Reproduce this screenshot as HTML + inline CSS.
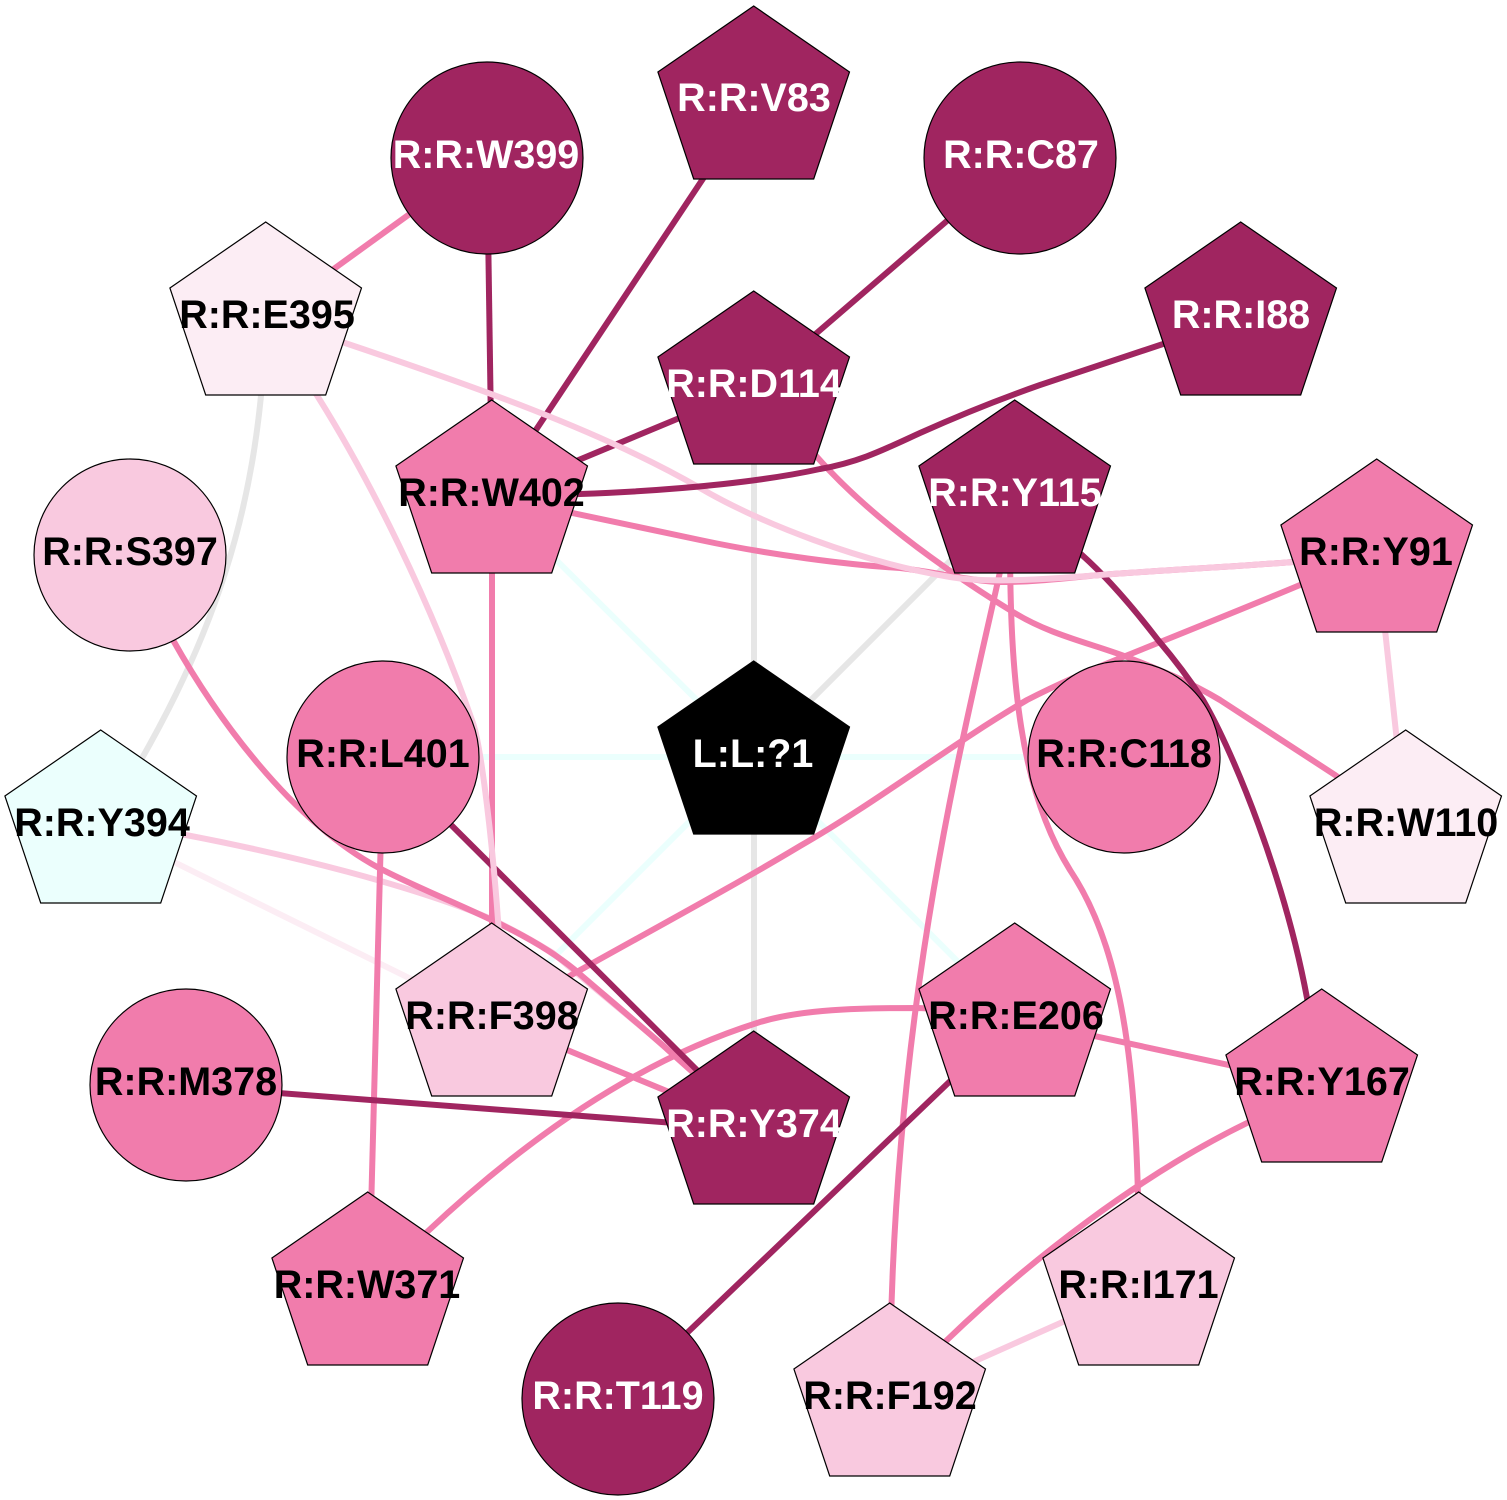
<!DOCTYPE html>
<html><head><meta charset="utf-8"><style>
html,body{margin:0;padding:0;background:#fff}
svg{display:block}
text{font-family:"Liberation Sans",sans-serif;font-weight:bold;font-size:39.5px;text-anchor:middle}
.e{fill:none;stroke-width:6}
.d{stroke:#A02560}.p{stroke:#F17CAC}.l{stroke:#F9C9DF}.v{stroke:#FCEDF4}.g{stroke:#E6E6E6}.c{stroke:#EBFFFD}
.n{stroke:#000;stroke-width:1.2}
.D{fill:#A02560}.P{fill:#F17CAC}.L{fill:#F9C9DF}.V{fill:#FCEDF4}.C{fill:#EBFFFD}
</style></head><body>
<svg width="1507" height="1500" viewBox="0 0 1507 1500" xmlns="http://www.w3.org/2000/svg">
<defs><polygon id="q" points="-.3,0 95.5,66 59.7,173 -60.3,173 -96.1,66"/></defs>
<rect width="1507" height="1500" fill="#fff"/>
<g class="e">
<path class="c" d="M492 496L754 757"/>
<path class="c" d="M383 757H1124"/>
<path class="c" d="M1015 1019L754 757"/>
<path class="c" d="M492 1019L754 757"/>
<path class="g" d="M754 387V1127"/>
<path class="g" d="M1015 496L754 757"/>
<path class="g" d="M266 318C260 500 220 640 101 826"/>
<path class="v" d="M101 826L492 1019"/>
<path class="l" d="M1377 555L1406 826"/>
<path class="l" d="M1139 1288L890 1399"/>
<path class="l" d="M101 820L186 835C290 855 410 885 489 918C510 928 532 940 553 953C590 985 640 1025 696 1073L754 1127"/>
<path class="p" d="M487 158L266 318"/>
<path class="p" d="M492 496V1019"/>
<path class="p" d="M383 757L369 1288"/>
<path class="p" d="M492 1019L754 1127"/>
<path class="p" d="M1015 1019L1322 1085"/>
<path class="p" d="M492 496L700 540C770 555 850 565 900 568C930 571 970 581 1000 582C1035 582 1065 578 1100 575C1165 570 1230 567 1293 562L1377 555"/>
<path class="p" d="M754 387L817 457C870 517 945 570 1013 612C1050 635 1090 643 1127 657C1160 670 1190 682 1220 700L1335 775L1406 826"/>
<path class="p" d="M1015 496C990 650 890 950 890 1399"/>
<path class="p" d="M1010 540C1010 680 1020 790 1070 870C1130 960 1139 1100 1139 1288"/>
<path class="p" d="M1377 555L1300 585C1245 608 1185 632 1128 655C1095 668 1060 683 1027 700C950 745 880 800 800 846C735 885 670 920 575 973L492 1019"/>
<path class="p" d="M130 555C145 590 155 615 173 640C215 715 290 820 379 868C440 900 520 925 575 970C610 1000 640 1025 668 1050L754 1127"/>
<path class="p" d="M369 1288L427 1232C530 1135 640 1060 757 1023C800 1009 860 1008 918 1008L1015 1012"/>
<path class="p" d="M1322 1085L1247 1123C1140 1175 1030 1260 947 1340L890 1399"/>
<path class="d" d="M487 158L492 496"/>
<path class="d" d="M754 102L492 496"/>
<path class="d" d="M1020 158L754 387"/>
<path class="d" d="M754 387L492 496"/>
<path class="d" d="M1015 496L1082 555C1110 580 1135 610 1158 640C1175 660 1190 680 1203 700C1235 755 1285 880 1307 998L1322 1085"/>
<path class="d" d="M383 757L754 1127"/>
<path class="d" d="M186 1086L754 1129"/>
<path class="d" d="M1015 1019L618 1399"/>
<path class="l" d="M266 318L318 397C370 480 430 600 473 723C482 750 493 850 498 920L505 1019"/>
<path class="l" d="M266 315L345 343C470 385 600 430 700 488C760 523 860 562 950 577C985 583 1040 580 1100 575C1165 570 1230 567 1293 562L1377 555"/>
<path class="d" d="M1241 318L1040 385C1000 399 960 415 920 433C885 449 860 462 820 469C770 480 690 490 580 494L492 496"/>
</g>
<g class="n">
<circle class="D" cx="487" cy="158" r="96"/>
<circle class="D" cx="1020" cy="158" r="96"/>
<circle class="L" cx="130" cy="555" r="96"/>
<circle class="P" cx="383" cy="757" r="96"/>
<circle class="P" cx="1124" cy="757" r="96"/>
<circle class="P" cx="186" cy="1085" r="96"/>
<circle class="D" cx="618" cy="1399" r="96"/>
<use href="#q" x="754" y="6" class="D"/>
<use href="#q" x="266" y="222" class="V"/>
<use href="#q" x="1241" y="222" class="D"/>
<use href="#q" x="754" y="291" class="D"/>
<use href="#q" x="492" y="400" class="P"/>
<use href="#q" x="1015" y="400" class="D"/>
<use href="#q" x="1377" y="459" class="P"/>
<use href="#q" x="754" y="661" fill="#000"/>
<use href="#q" x="101" y="730" class="C"/>
<use href="#q" x="1406" y="730" class="V"/>
<use href="#q" x="492" y="923" class="L"/>
<use href="#q" x="1015" y="923" class="P"/>
<use href="#q" x="1322" y="989" class="P"/>
<use href="#q" x="754" y="1031" class="D"/>
<use href="#q" x="368" y="1192" class="P"/>
<use href="#q" x="1139" y="1192" class="L"/>
<use href="#q" x="890" y="1303" class="L"/>
</g>
<g fill="#fff">
<text x="486" y="168">R:R:W399</text>
<text x="754" y="111">R:R:V83</text>
<text x="1021" y="168">R:R:C87</text>
<text x="1241" y="328">R:R:I88</text>
<text x="754" y="397">R:R:D114</text>
<text x="1015" y="506">R:R:Y115</text>
<text x="753" y="767">L:L:?1</text>
<text x="754" y="1137">R:R:Y374</text>
<text x="618" y="1409">R:R:T119</text>
</g>
<g fill="#000">
<text x="267" y="328">R:R:E395</text>
<text x="491.5" y="506">R:R:W402</text>
<text x="130" y="565">R:R:S397</text>
<text x="1376" y="565">R:R:Y91</text>
<text x="383" y="767">R:R:L401</text>
<text x="1124" y="767">R:R:C118</text>
<text x="102" y="836">R:R:Y394</text>
<text x="1406" y="836">R:R:W110</text>
<text x="492" y="1029">R:R:F398</text>
<text x="1016" y="1029">R:R:E206</text>
<text x="186" y="1095">R:R:M378</text>
<text x="1322" y="1095">R:R:Y167</text>
<text x="367" y="1298">R:R:W371</text>
<text x="1138.5" y="1298">R:R:I171</text>
<text x="890" y="1409">R:R:F192</text>
</g>
</svg>
</body></html>
